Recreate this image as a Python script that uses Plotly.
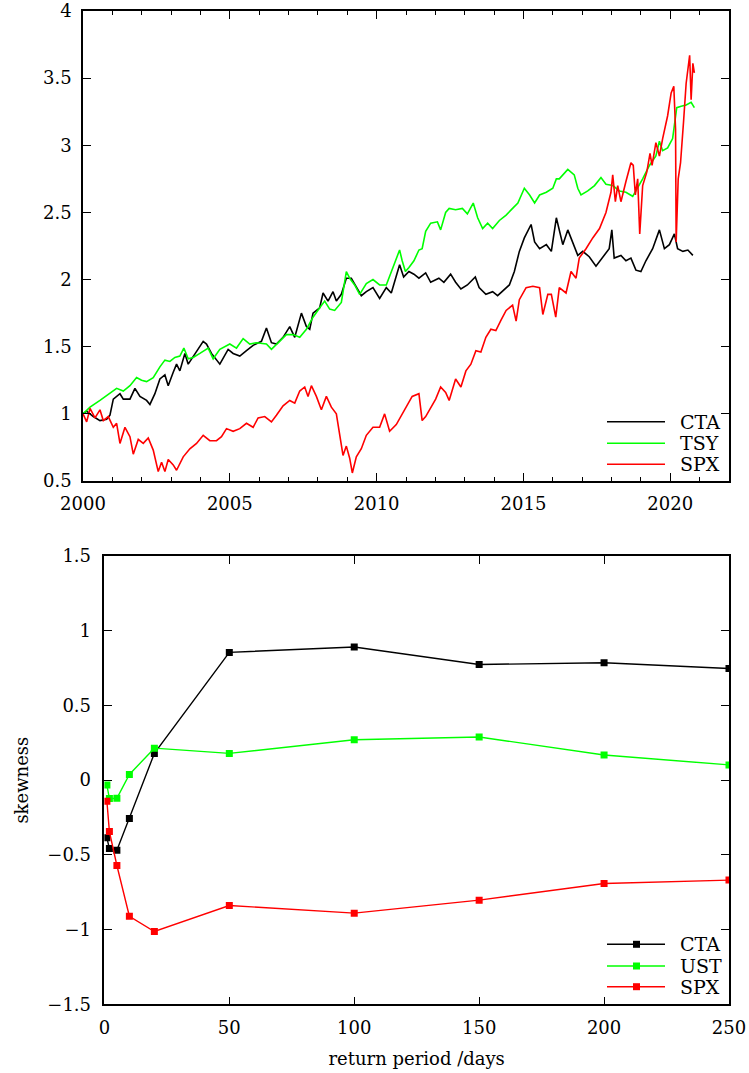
import plotly.graph_objects as go

# ---------------- top panel: cumulative performance ----------------
cta_t = [2000.0, 2000.125, 2000.351, 2000.578, 2000.805, 2000.918, 2001.032, 2001.259, 2001.372, 2001.599,
         2001.769, 2001.939, 2002.166, 2002.279, 2002.449, 2002.619, 2002.789, 2002.902, 2003.073, 2003.186,
         2003.299, 2003.469, 2003.583, 2003.810, 2004.093, 2004.206, 2004.376, 2004.660, 2004.943, 2005.113,
         2005.340, 2005.567, 2005.794, 2006.077, 2006.247, 2006.417, 2006.587, 2006.814, 2007.041, 2007.211,
         2007.438, 2007.608, 2007.721, 2007.834, 2008.061, 2008.175, 2008.345, 2008.515, 2008.628, 2008.798,
         2008.968, 2009.138, 2009.308, 2009.478, 2009.649, 2009.875, 2010.102, 2010.329, 2010.499, 2010.782,
         2010.92, 2011.10, 2011.27, 2011.44, 2011.67, 2011.84, 2012.12, 2012.29, 2012.52, 2012.69,
         2012.87, 2013.09, 2013.36, 2013.49, 2013.72, 2013.95, 2014.12, 2014.35, 2014.52, 2014.69,
         2014.86, 2015.03, 2015.15, 2015.26, 2015.38, 2015.55, 2015.78, 2015.95, 2016.12,
         2016.22, 2016.34, 2016.51, 2016.68, 2016.85, 2017.02, 2017.24, 2017.47, 2017.70, 2017.92,
         2018.01, 2018.09, 2018.32, 2018.49, 2018.66, 2018.83, 2019.00, 2019.17, 2019.40, 2019.63,
         2019.80, 2019.97, 2020.14, 2020.25, 2020.43, 2020.60, 2020.77]
cta_v = [1.00, 1.02, 0.98, 0.95, 0.96, 0.99, 1.11, 1.15, 1.11, 1.11,
         1.19, 1.13, 1.10, 1.07, 1.15, 1.26, 1.29, 1.21, 1.31, 1.37,
         1.32, 1.45, 1.37, 1.45, 1.54, 1.52, 1.45, 1.37, 1.48, 1.45,
         1.43, 1.47, 1.51, 1.54, 1.64, 1.53, 1.52, 1.57, 1.65, 1.57,
         1.75, 1.65, 1.63, 1.75, 1.79, 1.90, 1.84, 1.91, 1.84, 1.89,
         2.01, 2.01, 1.95, 1.88, 1.91, 1.94, 1.86, 1.94, 1.90, 2.11,
         2.02, 2.06, 2.04, 2.01, 2.05, 1.98, 2.01, 1.98, 2.04, 1.98,
         1.93, 1.96, 2.02, 1.94, 1.89, 1.91, 1.88, 1.93, 1.96, 2.06,
         2.21, 2.31, 2.36, 2.41, 2.28, 2.23, 2.26, 2.21, 2.46,
         2.36, 2.26, 2.37, 2.28, 2.18, 2.21, 2.17, 2.10, 2.17, 2.23,
         2.37, 2.16, 2.18, 2.14, 2.16, 2.07, 2.06, 2.14, 2.23, 2.37,
         2.23, 2.26, 2.34, 2.23, 2.21, 2.22, 2.18]

tsy_t = [2000.0, 2000.239, 2000.578, 2000.918, 2001.145, 2001.372, 2001.599, 2001.825, 2001.995, 2002.166,
         2002.392, 2002.619, 2002.789, 2002.959, 2003.129, 2003.299, 2003.435, 2003.583, 2003.753, 2003.980,
         2004.263, 2004.433, 2004.660, 2005.000, 2005.227, 2005.454, 2005.680, 2005.907, 2006.247, 2006.417,
         2006.701, 2006.927, 2007.154, 2007.381, 2007.608, 2007.834, 2008.061, 2008.231, 2008.401, 2008.571,
         2008.798, 2008.968, 2009.082, 2009.252, 2009.422, 2009.649, 2009.875, 2010.102, 2010.329, 2010.556,
         2010.782, 2010.87, 2010.98, 2011.10, 2011.27, 2011.44, 2011.55, 2011.67, 2011.84, 2012.07,
         2012.18, 2012.35, 2012.47, 2012.69, 2012.92, 2013.09, 2013.29, 2013.44, 2013.61, 2013.78,
         2013.95, 2014.18, 2014.41, 2014.63, 2014.81, 2015.03, 2015.21, 2015.38, 2015.55, 2015.78,
         2016.00, 2016.12,
         2016.22, 2016.51, 2016.73, 2016.85, 2016.96, 2017.19, 2017.42, 2017.64, 2017.81, 2018.04,
         2018.27, 2018.49, 2018.72, 2019.06, 2019.29, 2019.51, 2019.63, 2019.74, 2019.91, 2020.08,
         2020.22, 2020.37, 2020.54, 2020.71, 2020.82]
tsy_v = [1.00, 1.05, 1.10, 1.15, 1.19, 1.17, 1.21, 1.27, 1.25, 1.24,
         1.27, 1.35, 1.40, 1.39, 1.42, 1.43, 1.49, 1.41, 1.42, 1.45,
         1.49, 1.41, 1.48, 1.52, 1.49, 1.56, 1.52, 1.53, 1.52, 1.48,
         1.54, 1.59, 1.59, 1.57, 1.63, 1.72, 1.79, 1.84, 1.78, 1.77,
         1.83, 2.06, 2.01, 1.96, 1.89, 1.97, 2.00, 1.96, 1.96, 2.09,
         2.22, 2.14, 2.06, 2.09, 2.14, 2.22, 2.23, 2.36, 2.42, 2.43,
         2.37, 2.50, 2.53, 2.52, 2.53, 2.49, 2.57, 2.46, 2.38, 2.42,
         2.38, 2.44, 2.48, 2.53, 2.57, 2.68, 2.63, 2.57, 2.63, 2.65,
         2.68, 2.75,
         2.75, 2.82, 2.78, 2.68, 2.63, 2.66, 2.70, 2.76, 2.71, 2.70,
         2.66, 2.65, 2.62, 2.75, 2.85, 2.92, 3.03, 2.96, 2.98, 3.05,
         3.28, 3.29, 3.30, 3.32, 3.28]

spx_t = [2000.0, 2000.125, 2000.239, 2000.408, 2000.578, 2000.691, 2000.861, 2001.032, 2001.145, 2001.259,
         2001.429, 2001.599, 2001.712, 2001.882, 2002.052, 2002.222, 2002.392, 2002.562, 2002.676, 2002.789,
         2002.902, 2003.073, 2003.186, 2003.413, 2003.639, 2003.866, 2004.093, 2004.320, 2004.546, 2004.716,
         2004.887, 2005.113, 2005.340, 2005.567, 2005.794, 2005.964, 2006.190, 2006.417, 2006.587, 2006.814,
         2007.041, 2007.211, 2007.381, 2007.551, 2007.664, 2007.778, 2007.948, 2008.118, 2008.288, 2008.458,
         2008.628, 2008.741, 2008.855, 2008.968, 2009.082, 2009.172, 2009.308, 2009.478, 2009.649, 2009.875,
         2010.102, 2010.272, 2010.442, 2010.669, 2010.896, 2011.10, 2011.21, 2011.44, 2011.55, 2011.67,
         2011.84, 2012.01, 2012.18, 2012.35, 2012.47, 2012.69, 2012.87, 2013.04, 2013.21, 2013.38,
         2013.55, 2013.72, 2013.89, 2014.06, 2014.24, 2014.41, 2014.63, 2014.75, 2014.86, 2015.09,
         2015.32, 2015.55, 2015.66, 2015.83, 2015.95, 2016.10,
         2016.22, 2016.45, 2016.62, 2016.79, 2016.90, 2017.13, 2017.36, 2017.59, 2017.81, 2017.98,
         2018.04, 2018.13, 2018.21, 2018.32, 2018.49, 2018.66, 2018.74, 2018.81, 2018.89, 2018.96,
         2019.06, 2019.20, 2019.31, 2019.38, 2019.51, 2019.63, 2019.74, 2019.91, 2020.03, 2020.12,
         2020.18, 2020.20, 2020.27, 2020.35, 2020.45, 2020.54, 2020.66, 2020.71, 2020.77, 2020.82]
spx_v = [1.00, 0.94, 1.04, 0.97, 1.03, 0.95, 0.98, 0.90, 0.93, 0.78,
         0.90, 0.83, 0.70, 0.81, 0.78, 0.82, 0.73, 0.57, 0.64, 0.57,
         0.66, 0.62, 0.58, 0.68, 0.74, 0.78, 0.84, 0.80, 0.80, 0.83,
         0.89, 0.87, 0.89, 0.93, 0.90, 0.97, 0.98, 0.94, 0.99, 1.06,
         1.10, 1.08, 1.17, 1.20, 1.13, 1.21, 1.13, 1.03, 1.13, 1.05,
         1.00, 0.85, 0.69, 0.76, 0.67, 0.56, 0.68, 0.74, 0.84, 0.90,
         0.90, 1.00, 0.87, 0.92, 1.01, 1.09, 1.13, 1.15, 0.95, 0.98,
         1.04, 1.11, 1.20, 1.16, 1.10, 1.26, 1.20, 1.32, 1.37, 1.47,
         1.46, 1.57, 1.63, 1.62, 1.70, 1.77, 1.81, 1.69, 1.85, 1.94,
         1.95, 1.94, 1.74, 1.89, 1.89, 1.72,
         1.94, 1.90, 2.06, 2.01, 2.16, 2.23, 2.31, 2.38, 2.50, 2.65,
         2.78, 2.58, 2.70, 2.58, 2.73, 2.87, 2.85, 2.63, 2.75, 2.34,
         2.70, 2.80, 2.94, 2.85, 3.02, 2.92, 3.05, 3.22, 3.39, 3.44,
         3.12, 2.28, 2.75, 2.87, 3.17, 3.46, 3.67, 3.34, 3.61, 3.54]

top_names = ["CTA", "TSY", "SPX"]

# ---------------- bottom panel: skewness vs return period ----------------
period_days = [1, 2, 5, 10, 20, 50, 100, 150, 200, 250]
skew_cta = [-0.386, -0.458, -0.469, -0.257, 0.179, 0.855, 0.891, 0.774, 0.786, 0.747]
skew_ust = [-0.033, -0.123, -0.121, 0.038, 0.214, 0.179, 0.270, 0.289, 0.168, 0.102]
skew_spx = [-0.141, -0.344, -0.571, -0.911, -1.013, -0.839, -0.890, -0.803, -0.692, -0.669]
bottom_names = ["CTA", "UST", "SPX"]

colors = ["#000000", "#00ff00", "#ff0000"]
FONT = "DejaVu Serif"
W, H = 749, 1073

fig = go.Figure()

for t, v, name, c in zip([cta_t, tsy_t, spx_t], [cta_v, tsy_v, spx_v], top_names, colors):
    fig.add_trace(go.Scatter(x=t, y=v, name=name, mode="lines",
                             line=dict(color=c, width=1.6),
                             xaxis="x", yaxis="y", showlegend=False))

for v, name, c in zip([skew_cta, skew_ust, skew_spx], bottom_names, colors):
    fig.add_trace(go.Scatter(x=period_days, y=v, name=name, mode="lines+markers",
                             line=dict(color=c, width=1.4),
                             marker=dict(symbol="square", size=7, color=c),
                             xaxis="x2", yaxis="y2", showlegend=False))

# ---- legends (gnuplot style: key at bottom right inside each panel) ----
def px(x):
    return x / W

def py(y):
    return 1 - y / H

shapes, annotations = [], []
top_rows = [421.7, 443.3, 464.3]
bot_rows = [944.3, 966.0, 986.7]
for names, rows, with_marker in ((top_names, top_rows, False), (bottom_names, bot_rows, True)):
    for name, c, yy in zip(names, colors, rows):
        shapes.append(dict(type="line", xref="paper", yref="paper",
                           x0=px(607), x1=px(665), y0=py(yy), y1=py(yy),
                           line=dict(color=c, width=1.6)))
        if with_marker:
            shapes.append(dict(type="rect", xref="paper", yref="paper",
                               x0=px(636.5 - 3.5), x1=px(636.5 + 3.5),
                               y0=py(yy + 3.5), y1=py(yy - 3.5),
                               fillcolor=c, line=dict(width=0)))
        annotations.append(dict(text=name, xref="paper", yref="paper",
                                x=px(678), y=py(yy), xanchor="left", yanchor="middle",
                                showarrow=False, font=dict(family=FONT, size=19, color="black")))

axis_common = dict(showline=True, linecolor="black", linewidth=1.5, mirror="allticks",
                   ticks="inside", ticklen=8, tickwidth=1, tickcolor="black",
                   showgrid=False, zeroline=False, automargin=False,
                   ticklabeloverflow="allow",
                   tickfont=dict(family=FONT, size=18, color="black"))

fig.update_layout(
    width=W, height=H,
    margin=dict(l=0, r=0, t=0, b=0, autoexpand=False),
    paper_bgcolor="white", plot_bgcolor="white",
    font=dict(family=FONT, size=18, color="black"),
    showlegend=False,
    shapes=shapes, annotations=annotations,
    xaxis=dict(domain=[83 / W, 729 / W], anchor="y", range=[2000, 2022],
               tickmode="array", tickvals=[2000, 2005, 2010, 2015, 2020],
               ticktext=["2000", "2005", "2010", "2015", "2020"],
               minor=dict(dtick=1, tick0=2000, ticks="inside", ticklen=4, tickcolor="black"),
               ticklabelstandoff=6, **axis_common),
    yaxis=dict(domain=[1 - 481 / H, 1 - 11 / H], anchor="x", range=[0.5, 4],
               tickmode="array", tickvals=[0.5, 1, 1.5, 2, 2.5, 3, 3.5, 4],
               ticktext=["0.5", "1", "1.5", "2", "2.5", "3", "3.5", "4"],
               ticklabelstandoff=6, **axis_common),
    xaxis2=dict(domain=[104.4 / W, 729 / W], anchor="y2", range=[0, 250],
                tickmode="array", tickvals=[0, 50, 100, 150, 200, 250],
                ticktext=["0", "50", "100", "150", "200", "250"],
                title=dict(text="return period /days", font=dict(family=FONT, size=18), standoff=16),
                ticklabelstandoff=6, **axis_common),
    yaxis2=dict(domain=[1 - 1004.3 / H, 1 - 556 / H], anchor="x2", range=[-1.5, 1.5],
                tickmode="array", tickvals=[-1.5, -1, -0.5, 0, 0.5, 1, 1.5],
                ticktext=["\u22121.5", "\u22121", "\u22120.5", "0", "0.5", "1", "1.5"],
                title=dict(text="skewness", font=dict(family=FONT, size=18), standoff=14),
                ticklabelstandoff=8, **axis_common),
)

fig.write_html("out.html", config={"displayModeBar": False},
               post_script="document.body.style.margin='0';")
